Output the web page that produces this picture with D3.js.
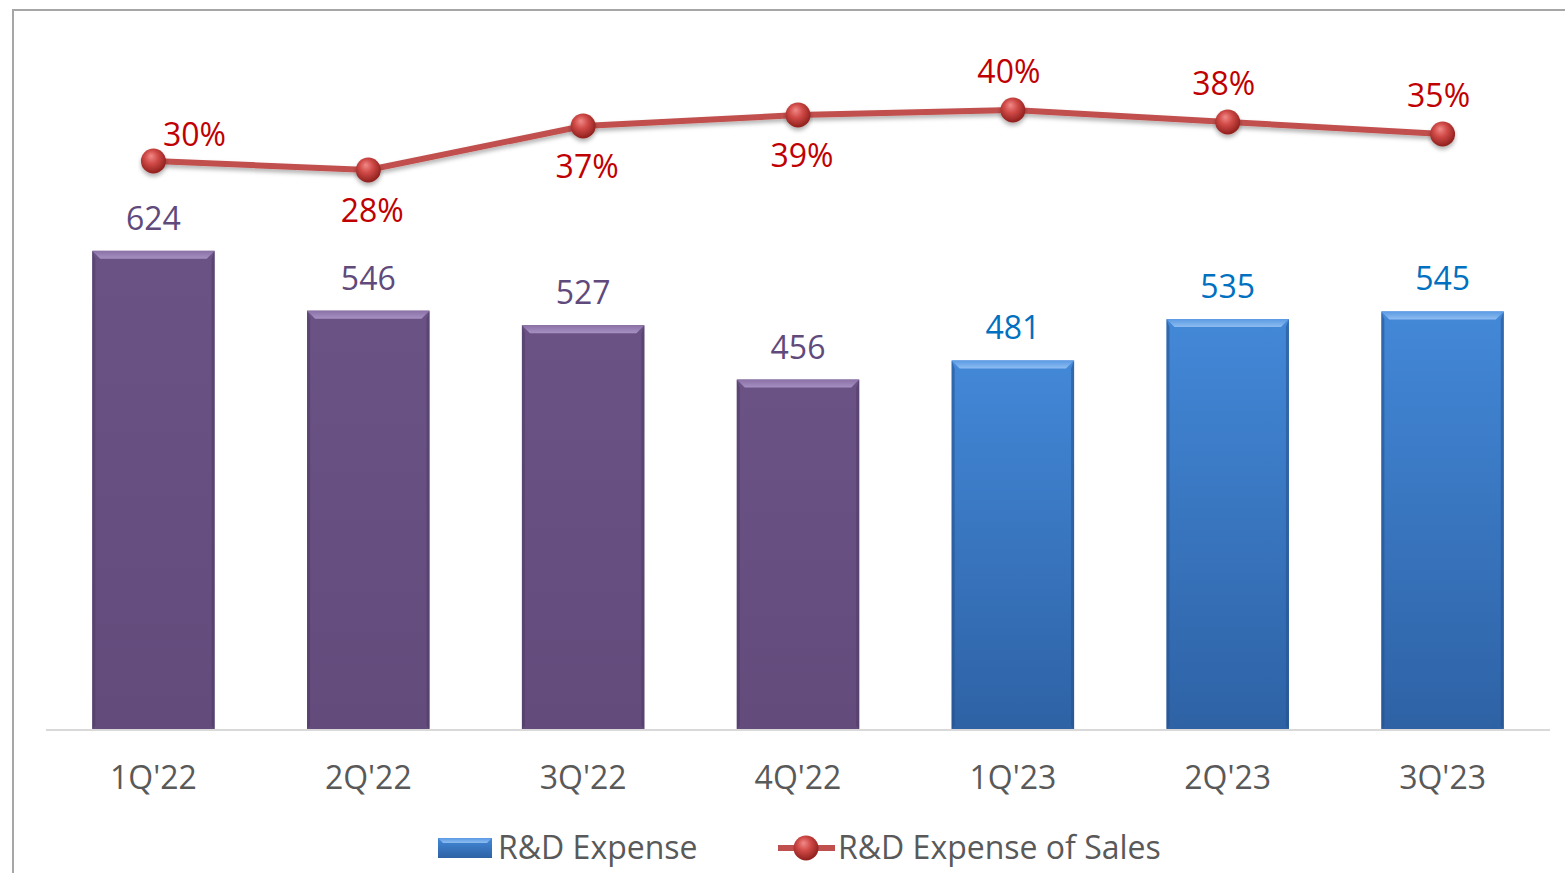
<!DOCTYPE html>
<html lang="en">
<head>
    <meta charset="UTF-8">
    <title>R&D Expense</title>
    <script src="https://d3js.org/d3.v7.min.js"></script>
    <style>
        body { margin: 0; background: #fff; }
        svg text { font-family: "Open Sans", sans-serif; }
    </style>
</head>
<body>
<script>
// Data
const quarters = ["1Q'22", "2Q'22", "3Q'22", "4Q'22", "1Q'23", "2Q'23", "3Q'23"];
const rdExpense = [624, 546, 527, 456, 481, 535, 545];
const rdPctOfSales = [0.300, 0.282, 0.370, 0.392, 0.402, 0.378, 0.354];
const barYear = ["2022", "2022", "2022", "2022", "2023", "2023", "2023"];
const pctLabelPos = ["right", "below", "below", "below", "above", "above", "above"];

const W = 1565, H = 873;

const svg = d3.select("body").append("svg")
    .attr("width", W)
    .attr("height", H);

const defs = svg.append("defs");

// gradients for bars
function vGrad(id, top, bottom) {
    const g = defs.append("linearGradient").attr("id", id)
        .attr("x1", 0).attr("y1", 0).attr("x2", 0).attr("y2", 1);
    g.append("stop").attr("offset", "0%").attr("stop-color", top);
    g.append("stop").attr("offset", "100%").attr("stop-color", bottom);
}
vGrad("gPurple", "#6a5285", "#634c7c");
vGrad("gBlue", "#4388d8", "#2e62a5");
vGrad("gPurpleTop", "#8a71a6", "#a690c2");
vGrad("gBlueTop", "#5a9ae4", "#8dbcf0");

const sphere = defs.append("radialGradient").attr("id", "gSphere")
    .attr("cx", "45%").attr("cy", "40%").attr("r", "60%").attr("fx", "40%").attr("fy", "30%");
sphere.append("stop").attr("offset", "0%").attr("stop-color", "#f08a88");
sphere.append("stop").attr("offset", "45%").attr("stop-color", "#d04a47");
sphere.append("stop").attr("offset", "100%").attr("stop-color", "#8e1f1c");

const shadow = defs.append("filter").attr("id", "shadow")
    .attr("x", "-10%").attr("y", "-50%").attr("width", "120%").attr("height", "200%");
shadow.append("feDropShadow").attr("dx", 0).attr("dy", 3).attr("stdDeviation", 2)
    .attr("flood-color", "#000").attr("flood-opacity", 0.3);

const colors = {
    "2022": {fill: "url(#gPurple)", top: "url(#gPurpleTop)", side: "#4e3a64", label: "#604a7b"},
    "2023": {fill: "url(#gBlue)", top: "url(#gBlueTop)", side: "#24508a", label: "#0070c0"}
};

// chart frame
svg.append("rect")
    .attr("x", 13).attr("y", 10)
    .attr("width", W + 20).attr("height", H + 20)
    .attr("fill", "none")
    .attr("stroke", "#a6a6a6")
    .attr("stroke-width", 2);

// scales
const x = d3.scaleBand()
    .domain(quarters)
    .range([46, 1550])
    .paddingInner(0.43)
    .paddingOuter(0.215);

const y = d3.scaleLinear().domain([0, 800]).range([729, 116]);
const y2 = d3.scaleLinear().domain([0, 0.6]).range([311, 11]);

// bars
const bev = 8;
const bars = svg.append("g").selectAll("g")
    .data(quarters)
    .join("g");

bars.append("rect")
    .attr("x", d => x(d))
    .attr("y", (d, i) => y(rdExpense[i]))
    .attr("width", x.bandwidth())
    .attr("height", (d, i) => y(0) - y(rdExpense[i]))
    .attr("fill", (d, i) => colors[barYear[i]].fill);

// side bevels
bars.append("path")
    .attr("d", (d, i) => {
        const x0 = x(d), x1 = x0 + x.bandwidth(), t = y(rdExpense[i]), b = y(0);
        return `M${x0},${t}L${x0 + 3},${t + bev}L${x0 + 3},${b - 3}L${x0},${b}Z` +
               `M${x1},${t}L${x1 - 3},${t + bev}L${x1 - 3},${b - 3}L${x1},${b}Z`;
    })
    .attr("fill", (d, i) => colors[barYear[i]].side)
    .attr("opacity", 0.55);

// top bevel
bars.append("path")
    .attr("d", (d, i) => {
        const x0 = x(d), x1 = x0 + x.bandwidth(), t = y(rdExpense[i]);
        return `M${x0},${t}L${x1},${t}L${x1 - bev},${t + bev}L${x0 + bev},${t + bev}Z`;
    })
    .attr("fill", (d, i) => colors[barYear[i]].top);

// bar value labels
bars.append("text")
    .attr("x", d => x(d) + x.bandwidth() / 2)
    .attr("y", (d, i) => y(rdExpense[i]) - 21)
    .attr("text-anchor", "middle")
    .attr("font-size", 32)
    .attr("fill", (d, i) => colors[barYear[i]].label)
    .text((d, i) => rdExpense[i]);

// x axis
const xAxis = svg.append("g")
    .attr("transform", `translate(0,${y(0)})`)
    .call(d3.axisBottom(x).tickSize(0).tickPadding(0).tickSizeOuter(0));
xAxis.select(".domain")
    .attr("d", "M46,1H1550")
    .attr("stroke", "#d9d9d9")
    .attr("stroke-width", 2);
xAxis.selectAll(".tick text")
    .attr("dy", 0)
    .attr("y", 60)
    .attr("font-size", 32)
    .attr("font-family", "Open Sans, sans-serif")
    .attr("fill", "#595959");

// line series
const cx = d => x(d) + x.bandwidth() / 2;
const line = d3.line()
    .x((d, i) => cx(quarters[i]))
    .y(d => y2(d));

svg.append("path")
    .datum(rdPctOfSales)
    .attr("d", line)
    .attr("fill", "none")
    .attr("stroke", "#c0504d")
    .attr("stroke-width", 6)
    .attr("filter", "url(#shadow)");

svg.append("g").selectAll("circle")
    .data(rdPctOfSales)
    .join("circle")
    .attr("cx", (d, i) => cx(quarters[i]))
    .attr("cy", d => y2(d))
    .attr("r", 12.5)
    .attr("fill", "url(#gSphere)")
    .attr("filter", "url(#shadow)");

const fmtPct = d3.format(".0%");
const offs = {right: [41, -15], below: [4, 52], above: [-4, -27]};
svg.append("g").selectAll("text")
    .data(rdPctOfSales)
    .join("text")
    .attr("x", (d, i) => cx(quarters[i]) + offs[pctLabelPos[i]][0])
    .attr("y", (d, i) => y2(d) + offs[pctLabelPos[i]][1])
    .attr("text-anchor", "middle")
    .attr("font-size", 32)
    .attr("fill", "#c00000")
    .text(d => fmtPct(d));

// legend
const legend = svg.append("g");
legend.append("rect")
    .attr("x", 438).attr("y", 838)
    .attr("width", 54).attr("height", 20)
    .attr("fill", "url(#gBlue)");
legend.append("path")
    .attr("d", "M438,838L492,838L487,843L443,843Z")
    .attr("fill", "url(#gBlueTop)");
legend.append("text")
    .attr("x", 498).attr("y", 859)
    .attr("font-size", 32)
    .attr("fill", "#595959")
    .text("R&D Expense");

legend.append("line")
    .attr("x1", 778).attr("x2", 835)
    .attr("y1", 848).attr("y2", 848)
    .attr("stroke", "#c0504d")
    .attr("stroke-width", 6);
legend.append("circle")
    .attr("cx", 806).attr("cy", 848).attr("r", 12.5)
    .attr("fill", "url(#gSphere)");
legend.append("text")
    .attr("x", 838).attr("y", 859)
    .attr("font-size", 32)
    .attr("fill", "#595959")
    .text("R&D Expense of Sales");
</script>
</body>
</html>
